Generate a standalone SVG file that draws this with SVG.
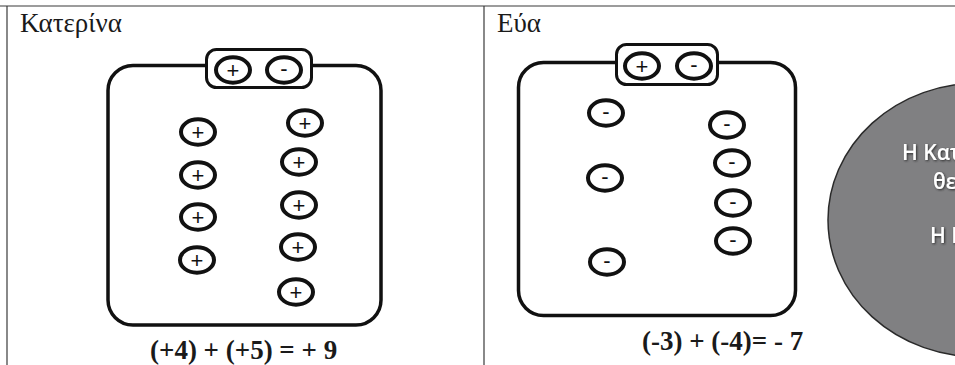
<svg xmlns="http://www.w3.org/2000/svg" width="955" height="365" viewBox="0 0 955 365">
<style>
.frame{stroke:#3a3a3a;stroke-width:1.2;fill:none}
.box{fill:none;stroke:#111;stroke-width:3.5}
.tab{fill:#fff;stroke:#111;stroke-width:3}
.chg{fill:#fff;stroke:#111;stroke-width:4}
.sign{font-family:"Liberation Sans",Arial,sans-serif;font-size:22px;fill:#111;text-anchor:middle}
.title{font-family:"Liberation Serif","Times New Roman",serif;font-size:27px;fill:#1a1a1a}
.eq{font-family:"Liberation Serif","Times New Roman",serif;font-size:27px;font-weight:bold;fill:#1a1a1a}
.oval{fill:#808082;stroke:#2a2a2a;stroke-width:1.5}
.otext{font-family:"Open Sans","Noto Sans",sans-serif;font-size:21px;font-weight:600;fill:#fff;filter:url(#sh)}
</style>
<defs>
<filter id="sh" x="-20%" y="-40%" width="140%" height="180%">
<feDropShadow dx="1" dy="1" stdDeviation="0.8" flood-color="#222" flood-opacity="0.9"/>
</filter>
<symbol id="pos" overflow="visible"><ellipse class="chg" cx="0" cy="0" rx="17" ry="12.7"/><text class="sign" x="0" y="7.5">+</text></symbol>
<symbol id="neg" overflow="visible"><ellipse class="chg" cx="0" cy="0" rx="17" ry="12.7"/><text class="sign" x="0" y="6">-</text></symbol>
</defs>
<rect width="955" height="365" fill="#fff"/>
<g id="frame">
<line class="frame" x1="0" y1="6" x2="955" y2="6"/>
<line class="frame" x1="7" y1="6" x2="7" y2="365"/>
<line class="frame" x1="484" y1="6" x2="484" y2="365"/>
</g>
<g id="katerina">
<text class="title" x="20" y="32">Κατερίνα</text>
<g id="box-k"><rect class="box" x="108" y="65.5" width="273" height="259.5" rx="25"/></g>
<g id="tab-k">
<rect class="tab" x="206.5" y="49.5" width="105" height="38" rx="10"/>
<use href="#pos" x="233" y="70"/><use href="#neg" x="284" y="70"/>
</g>
<g id="k-col1">
<use href="#pos" x="198" y="132"/><use href="#pos" x="198" y="175"/><use href="#pos" x="198" y="217"/><use href="#pos" x="197" y="260"/>
</g>
<g id="k-col2">
<use href="#pos" x="305" y="123"/><use href="#pos" x="299" y="162"/><use href="#pos" x="299" y="205"/><use href="#pos" x="298" y="247"/><use href="#pos" x="296" y="292"/>
</g>
<text class="eq" x="150" y="359">(+4) + (+5) = + 9</text>
</g>
<g id="eva">
<text class="title" x="497" y="32">Εύα</text>
<g id="box-e"><rect class="box" x="518.5" y="62.5" width="277" height="253" rx="25"/></g>
<g id="tab-e">
<rect class="tab" x="616.5" y="44.5" width="101" height="40" rx="10"/>
<use href="#pos" x="642" y="66"/><use href="#neg" x="694" y="66"/>
</g>
<g id="e-col1">
<use href="#neg" x="606" y="113"/><use href="#neg" x="605" y="178"/><use href="#neg" x="607" y="262"/>
</g>
<g id="e-col2">
<use href="#neg" x="727" y="125"/><use href="#neg" x="732" y="163"/><use href="#neg" x="733" y="203"/><use href="#neg" x="733" y="241"/>
</g>
<text class="eq" x="642" y="350">(-3) + (-4)= - 7</text>
</g>
<g id="oval">
<ellipse class="oval" cx="979" cy="220" rx="151" ry="137"/>
<text class="otext" x="902" y="160">Η Κατ</text>
<text class="otext" x="933" y="189">θε</text>
<text class="otext" x="930" y="243">Η Ε</text>
</g>
</svg>
